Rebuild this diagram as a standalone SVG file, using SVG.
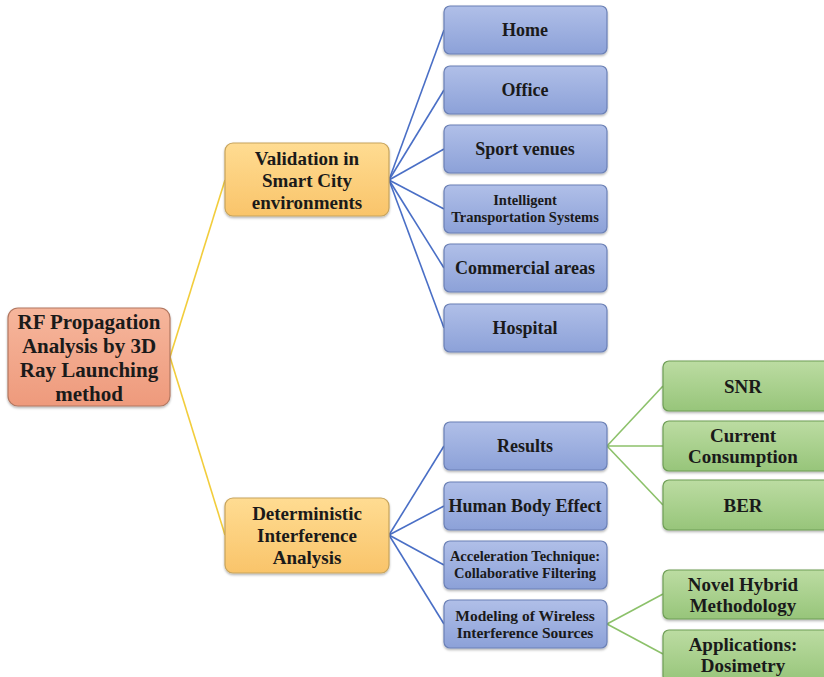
<svg xmlns="http://www.w3.org/2000/svg" width="824" height="677" viewBox="0 0 824 677">
<defs>
<linearGradient id="gBlue" x1="0" y1="0" x2="0" y2="1"><stop offset="0" stop-color="#b0bfe8"/><stop offset="1" stop-color="#8ca1d8"/></linearGradient>
<linearGradient id="gGreen" x1="0" y1="0" x2="0" y2="1"><stop offset="0" stop-color="#bcdca2"/><stop offset="1" stop-color="#97c57a"/></linearGradient>
<linearGradient id="gYellow" x1="0" y1="0" x2="0" y2="1"><stop offset="0" stop-color="#ffdc92"/><stop offset="1" stop-color="#f9c46a"/></linearGradient>
<linearGradient id="gRoot" x1="0" y1="0" x2="0" y2="1"><stop offset="0" stop-color="#f6b69c"/><stop offset="1" stop-color="#ee9a7c"/></linearGradient>
<filter id="sh" x="-10%" y="-10%" width="120%" height="130%"><feDropShadow dx="0" dy="1.5" stdDeviation="1.2" flood-color="#000" flood-opacity="0.3"/></filter>
</defs>
<style>
text{font-family:"Liberation Serif","DejaVu Serif",serif;font-weight:bold;fill:#1a1a1a;text-anchor:middle;dominant-baseline:central}
.blue rect{fill:url(#gBlue);stroke:#6b80b6;stroke-width:1.2}
.green rect{fill:url(#gGreen);stroke:#6e9e55;stroke-width:1.2}
.yellow rect{fill:url(#gYellow);stroke:#c7a45c;stroke-width:1.2}
.root rect{fill:url(#gRoot);stroke:#b27760;stroke-width:1.2}
.t17{font-size:18px}
.ty{font-size:19px}
.tg{font-size:19px}
.t13{font-size:14.5px}
.t15{font-size:15.5px}
.t19{font-size:21px}
#connectors line{stroke-width:1.6;fill:none}
.cy{stroke:#f2cd3c}
.cb{stroke:#4a6fc6}
.cg{stroke:#8cc16a}
</style>
<g id="connectors">
<line class="cy" x1="170" y1="357" x2="225" y2="180"/>
<line class="cy" x1="170" y1="357" x2="225" y2="535"/>
<line class="cb" x1="389" y1="180" x2="444" y2="30"/>
<line class="cb" x1="389" y1="180" x2="444" y2="90"/>
<line class="cb" x1="389" y1="180" x2="444" y2="149"/>
<line class="cb" x1="389" y1="180" x2="444" y2="209"/>
<line class="cb" x1="389" y1="180" x2="444" y2="268"/>
<line class="cb" x1="389" y1="180" x2="444" y2="328"/>
<line class="cb" x1="389" y1="535" x2="444" y2="446"/>
<line class="cb" x1="389" y1="535" x2="444" y2="506"/>
<line class="cb" x1="389" y1="535" x2="444" y2="565"/>
<line class="cb" x1="389" y1="535" x2="444" y2="624"/>
<line class="cg" x1="607" y1="446" x2="663" y2="386"/>
<line class="cg" x1="607" y1="446" x2="663" y2="446"/>
<line class="cg" x1="607" y1="446" x2="663" y2="505"/>
<line class="cg" x1="607" y1="624" x2="663" y2="594"/>
<line class="cg" x1="607" y1="624" x2="663" y2="654"/>
</g>
<g id="root" class="root"><rect x="8" y="308" width="162" height="98" rx="10" filter="url(#sh)"/>
<text class="t19" x="89" y="322">RF Propagation</text><text class="t19" x="89" y="346">Analysis by 3D</text><text class="t19" x="89" y="370">Ray Launching</text><text class="t19" x="89" y="394">method</text></g>
<g id="validation" class="yellow"><rect x="225" y="143" width="164" height="73" rx="8" filter="url(#sh)"/>
<text class="ty" x="307" y="158">Validation in</text><text class="ty" x="307" y="180">Smart City</text><text class="ty" x="307" y="202">environments</text></g>
<g id="deterministic" class="yellow"><rect x="225" y="498" width="164" height="75" rx="8" filter="url(#sh)"/>
<text class="ty" x="307" y="513">Deterministic</text><text class="ty" x="307" y="535">Interference</text><text class="ty" x="307" y="557">Analysis</text></g>
<g id="home" class="blue"><rect x="444" y="6" width="163" height="48" rx="6" filter="url(#sh)"/><text class="t17" x="525" y="30">Home</text></g>
<g id="office" class="blue"><rect x="444" y="66" width="163" height="48" rx="6" filter="url(#sh)"/><text class="t17" x="525" y="90">Office</text></g>
<g id="sport" class="blue"><rect x="444" y="125" width="163" height="48" rx="6" filter="url(#sh)"/><text class="t17" x="525" y="149">Sport venues</text></g>
<g id="its" class="blue"><rect x="444" y="185" width="163" height="48" rx="6" filter="url(#sh)"/><text class="t13" x="525" y="200">Intelligent</text><text class="t13" x="525" y="217">Transportation Systems</text></g>
<g id="commercial" class="blue"><rect x="444" y="244" width="163" height="48" rx="6" filter="url(#sh)"/><text class="t17" x="525" y="268">Commercial areas</text></g>
<g id="hospital" class="blue"><rect x="444" y="304" width="163" height="48" rx="6" filter="url(#sh)"/><text class="t17" x="525" y="328">Hospital</text></g>
<g id="results" class="blue"><rect x="444" y="422" width="163" height="48" rx="6" filter="url(#sh)"/><text class="t17" x="525" y="446">Results</text></g>
<g id="humanbody" class="blue"><rect x="444" y="482" width="163" height="48" rx="6" filter="url(#sh)"/><text class="t17" x="525" y="506">Human Body Effect</text></g>
<g id="acceleration" class="blue"><rect x="444" y="541" width="163" height="48" rx="6" filter="url(#sh)"/><text class="t13" x="525" y="556">Acceleration Technique:</text><text class="t13" x="525" y="573">Collaborative Filtering</text></g>
<g id="modeling" class="blue"><rect x="444" y="600" width="163" height="48" rx="6" filter="url(#sh)"/><text class="t15" x="525" y="615">Modeling of Wireless</text><text class="t15" x="525" y="632">Interference Sources</text></g>
<g id="snr" class="green"><rect x="663" y="361" width="170" height="50" rx="6" filter="url(#sh)"/><text class="tg" x="743" y="386">SNR</text></g>
<g id="current" class="green"><rect x="663" y="421" width="170" height="50" rx="6" filter="url(#sh)"/><text class="tg" x="743" y="435">Current</text><text class="tg" x="743" y="456">Consumption</text></g>
<g id="ber" class="green"><rect x="663" y="480" width="170" height="50" rx="6" filter="url(#sh)"/><text class="tg" x="743" y="505">BER</text></g>
<g id="novel" class="green"><rect x="663" y="570" width="170" height="49" rx="6" filter="url(#sh)"/><text class="tg" x="743" y="584">Novel Hybrid</text><text class="tg" x="743" y="605">Methodology</text></g>
<g id="applications" class="green"><rect x="663" y="630" width="170" height="52" rx="6" filter="url(#sh)"/><text class="tg" x="743" y="644">Applications:</text><text class="tg" x="743" y="665">Dosimetry</text></g>
</svg>
